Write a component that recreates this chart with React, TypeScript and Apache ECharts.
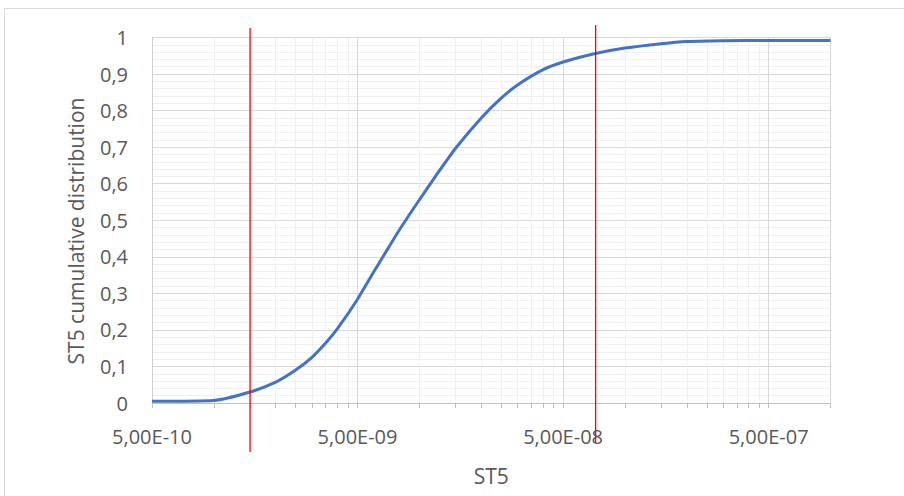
import React, { useEffect, useRef } from 'react';
import * as echarts from 'echarts';

// ST5 values (log scale) and cumulative distribution
const st5Values = [
  5e-10, 1e-9, 1.5e-9, 2e-9, 2.5e-9, 3e-9, 3.5e-9, 4e-9, 5e-9, 6e-9, 7e-9, 8e-9,
  1e-8, 1.2e-8, 1.5e-8, 2e-8, 2.5e-8, 3e-8, 4e-8, 5e-8, 7e-8, 1e-7, 1.5e-7, 2e-7,
  3e-7, 5e-7, 1e-6,
];
const cdfValues = [
  0.005, 0.007, 0.03, 0.057, 0.09, 0.125, 0.164, 0.204, 0.284, 0.359, 0.421, 0.474,
  0.556, 0.621, 0.697, 0.78, 0.834, 0.87, 0.912, 0.933, 0.955, 0.971, 0.983, 0.989,
  0.991, 0.992, 0.992,
];

// red threshold lines
const thresholds = [1.5e-9, 7.2e-8];

// axis ticks
const xMin = 5e-10;
const xMax = 1e-6;
const xMajorTicks = [5e-10, 5e-9, 5e-8, 5e-7, 1e-6];
const xLabelTicks = [5e-10, 5e-9, 5e-8, 5e-7];
const xMinorTicks = [
  1e-9, 1.5e-9, 2e-9, 2.5e-9, 3e-9, 3.5e-9, 4e-9, 4.5e-9,
  1e-8, 1.5e-8, 2e-8, 2.5e-8, 3e-8, 3.5e-8, 4e-8, 4.5e-8,
  1e-7, 1.5e-7, 2e-7, 2.5e-7, 3e-7, 3.5e-7, 4e-7, 4.5e-7,
];

const xTitle = 'ST5';
const yTitle = 'ST5 cumulative distribution';

const FONT = '"Open Sans", "Noto Sans", sans-serif';
const TEXT = '#595959';

function fmtSci(v: number): string {
  const s = v.toExponential(2); // e.g. 5.00e-10
  const [mant, exp] = s.split('e');
  const sign = exp[0] === '-' ? '-' : '+';
  const digits = exp.replace(/^[-+]/, '').padStart(2, '0');
  return mant.replace('.', ',') + 'E' + sign + digits;
}

const redExt = [
  [9.5, 49],
  [12.5, 40],
];

export default function App() {
  const ref = useRef<HTMLDivElement>(null);
  useEffect(() => {
    if (!ref.current) return;
    const chart = echarts.init(ref.current, undefined, { renderer: 'svg' });
    chart.setOption({
      animation: false,
      backgroundColor: '#ffffff',
      textStyle: { fontFamily: FONT },
      grid: { left: 152, top: 37.5, width: 678.5, height: 365.5 },
      graphic: [
        {
          type: 'rect',
          shape: { x: 4.5, y: 8.5, width: 1000, height: 1000 },
          style: { fill: 'none', stroke: '#d9d9d9', lineWidth: 1 },
          silent: true,
          z: -10,
        },
        {
          type: 'text',
          x: 76,
          y: 231,
          rotation: Math.PI / 2,
          style: {
            text: yTitle,
            fill: TEXT,
            font: `21px ${FONT}`,
            align: 'center',
            verticalAlign: 'middle',
          },
        },
      ],
      xAxis: [
        {
          type: 'log',
          logBase: 10,
          min: xMin,
          max: xMax,
          position: 'bottom',
          name: xTitle,
          nameLocation: 'middle',
          nameGap: 62,
          nameTextStyle: { color: TEXT, fontSize: 21, fontFamily: FONT },
          axisLine: { show: true, lineStyle: { color: '#bfbfbf', width: 1 } },
          axisTick: {
            show: true,
            customValues: xMajorTicks,
            length: 5,
            lineStyle: { color: '#bfbfbf' },
          },
          axisLabel: {
            customValues: xLabelTicks,
            color: TEXT,
            fontSize: 20,
            fontFamily: FONT,
            margin: 23,
            formatter: (v: number) => fmtSci(v),
          },
          splitLine: { show: true, lineStyle: { color: '#d9d9d9', width: 1 } },
        },
        {
          type: 'log',
          logBase: 10,
          min: xMin,
          max: xMax,
          position: 'bottom',
          axisLine: { show: false },
          axisTick: {
            show: true,
            customValues: xMinorTicks,
            length: 5,
            lineStyle: { color: '#bfbfbf' },
          },
          axisLabel: { show: false },
          splitLine: { show: true, lineStyle: { color: '#f0f0f0', width: 1 } },
        },
      ],
      yAxis: {
        type: 'value',
        min: 0,
        max: 1,
        interval: 0.1,
        axisLine: { show: true, lineStyle: { color: '#d0d0d0' } },
        axisTick: { show: false },
        axisLabel: {
          color: TEXT,
          fontSize: 20,
          fontFamily: FONT,
          margin: 24,
          formatter: (v: number) => String(Math.round(v * 10) / 10).replace('.', ','),
        },
        splitLine: { show: true, lineStyle: { color: '#d9d9d9', width: 1 } },
        minorTick: { show: false, splitNumber: 5 },
        minorSplitLine: { show: true, lineStyle: { color: '#f0f0f0', width: 1 } },
      },
      series: [
        {
          type: 'line',
          xAxisIndex: 0,
          yAxisIndex: 0,
          data: st5Values.map((x, i) => [x, cdfValues[i]]),
          showSymbol: false,
          smooth: 0.2,
          lineStyle: { color: '#4472c4', width: 3 },
          itemStyle: { color: '#4472c4' },
          clip: false,
          silent: true,
          z: 3,
        },
        {
          type: 'custom',
          xAxisIndex: 1,
          yAxisIndex: 0,
          data: thresholds.map((x) => [x, 0]),
          clip: false,
          silent: true,
          z: 5,
          renderItem: (params: any, api: any) => {
            const p = api.coord([api.value(0), 0]);
            const cs = params.coordSys;
            const ext = redExt[params.dataIndex] || [10, 45];
            return {
              type: 'line',
              shape: {
                x1: p[0],
                y1: cs.y - ext[0],
                x2: p[0],
                y2: cs.y + cs.height + ext[1],
              },
              style: { stroke: '#ff0000', lineWidth: 1.3 },
            };
          },
        },
      ],
    });
    return () => chart.dispose();
  }, []);
  return (
    <div
      ref={ref}
      style={{ position: 'fixed', left: 0, top: 0, width: 904, height: 496 }}
    />
  );
}
